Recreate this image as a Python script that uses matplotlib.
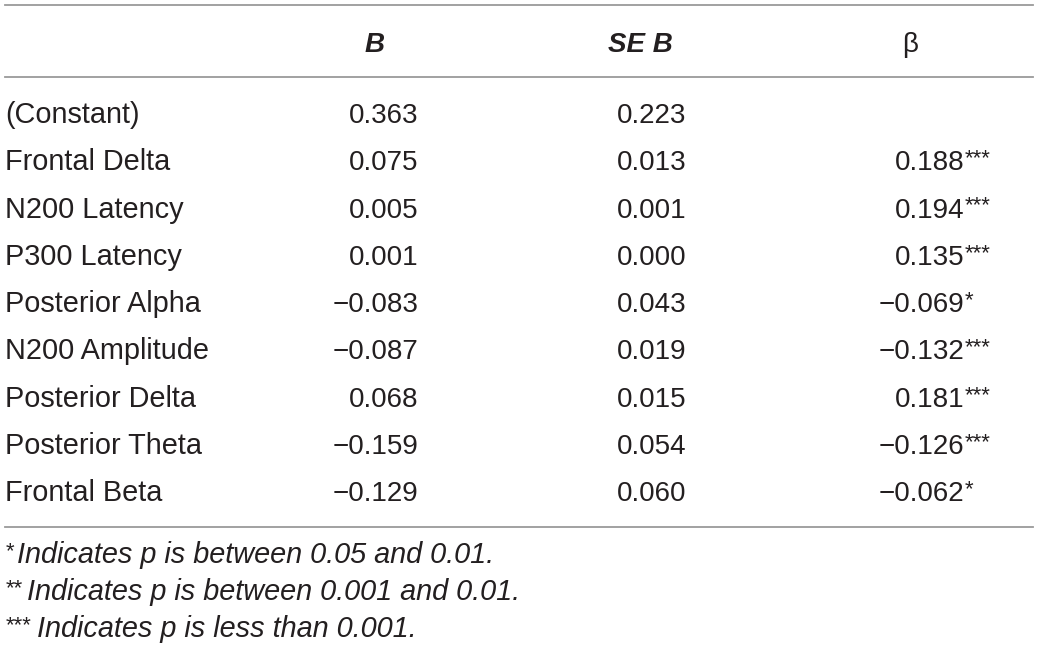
import matplotlib
matplotlib.use("Agg")
import matplotlib.pyplot as plt
from matplotlib.lines import Line2D

# ---- data ----
row_labels = ["(Constant)", "Frontal Delta", "N200 Latency", "P300 Latency",
              "Posterior Alpha", "N200 Amplitude", "Posterior Delta",
              "Posterior Theta", "Frontal Beta"]
b_values = ["0.363", "0.075", "0.005", "0.001", "\u22120.083", "\u22120.087",
            "0.068", "\u22120.159", "\u22120.129"]
se_values = ["0.223", "0.013", "0.001", "0.000", "0.043", "0.019",
             "0.015", "0.054", "0.060"]
beta_values = ["", "0.188", "0.194", "0.135", "\u22120.069", "\u22120.132",
               "0.181", "\u22120.126", "\u22120.062"]
beta_stars = ["", "***", "***", "***", "*", "***", "***", "***", "*"]
headers = ["B", "SE B", "\u03b2"]
footnote_stars = ["*", "**", "***"]
footnotes = ["Indicates p is between 0.05 and 0.01.",
             "Indicates p is between 0.001 and 0.01.",
             "Indicates p is less than 0.001."]

W, H = 1039, 650
fig = plt.figure(figsize=(W / 100, H / 100), dpi=100)
fig.patch.set_facecolor("white")

FONT = "Liberation Sans"
TC = "#231f20"
LC = "#9a9a9a"
FS = 20
LFS = 20.8
SFS = 16


def fx(x):
    return x / W


def fy(y):
    return 1 - y / H


def txt(x, y, s, **kw):
    kw.setdefault("fontsize", FS)
    kw.setdefault("color", TC)
    kw.setdefault("family", FONT)
    kw.setdefault("va", "baseline")
    fig.text(fx(x), fy(y), s, **kw)


def hline(y):
    fig.add_artist(Line2D([fx(5), fx(1033)], [fy(y), fy(y)], color=LC,
                          lw=1.3, transform=fig.transFigure))


hline(5)
hline(77)
hline(527)

# header
hb = 52
txt(375, hb, headers[0], ha="center", weight="bold", style="italic")
txt(608, hb, headers[1], ha="left", weight="bold", style="italic")
txt(910, hb, headers[2], ha="center")

# rows
row0 = 123
step = 47.3
for i, lab in enumerate(row_labels):
    y = row0 + i * step
    txt(5, y, lab, ha="left", fontsize=LFS)
    txt(418, y, b_values[i], ha="right")
    txt(686, y, se_values[i], ha="right")
    if beta_values[i]:
        txt(964, y, beta_values[i], ha="right")
        txt(965, y - 6, beta_stars[i], ha="left", fontsize=SFS)

# footnotes
fb = [563, 600, 637]
for i, (st, note) in enumerate(zip(footnote_stars, footnotes)):
    txt(5, fb[i] - 6, st, ha="left", fontsize=SFS, style="italic")
    txt(7 + 10 * len(st), fb[i], note, ha="left", style="italic",
        fontsize=LFS)

fig.savefig("out.png", dpi=100)
